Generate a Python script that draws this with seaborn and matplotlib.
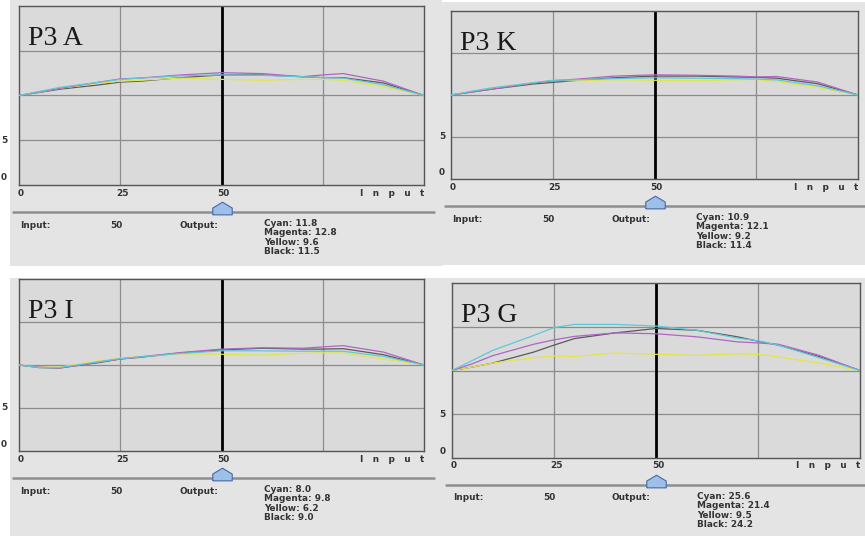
import numpy as np
import pandas as pd
import matplotlib
matplotlib.use('Agg')
import matplotlib.pyplot as plt
import matplotlib.transforms as mtransforms
from matplotlib.path import Path
from matplotlib.patches import Rectangle
import seaborn as sns

W, H = 865, 536

# ---- data ----
inputs = [0, 5, 10, 20, 25, 30, 40, 50, 60, 70, 75, 80, 90, 100]

A_cyan    = [10, 10.45, 10.9, 11.5, 11.8, 11.95, 12.2, 12.3, 12.25, 12.1, 12.0, 11.95, 11.2, 10]
A_magenta = [10, 10.4, 10.8, 11.5, 11.85, 11.95, 12.3, 12.55, 12.45, 12.1, 12.3, 12.45, 11.6, 10]
A_yellow  = [10, 10.4, 10.8, 11.4, 11.6, 11.7, 11.95, 11.8, 11.7, 11.8, 11.8, 11.7, 11.0, 10]
A_black   = [10, 10.35, 10.7, 11.2, 11.5, 11.6, 12.0, 12.3, 12.3, 12.1, 12.0, 12.0, 11.4, 10]

K_cyan    = [10, 10.45, 10.85, 11.45, 11.75, 11.8, 11.95, 12.05, 12.0, 11.95, 11.9, 11.8, 11.1, 10]
K_magenta = [10, 10.35, 10.7, 11.4, 11.7, 11.85, 12.25, 12.4, 12.35, 12.25, 12.15, 12.2, 11.55, 10]
K_yellow  = [10, 10.4, 10.8, 11.45, 11.75, 11.7, 11.8, 11.75, 11.7, 11.8, 11.85, 11.6, 10.9, 10]
K_black   = [10, 10.35, 10.7, 11.3, 11.5, 11.7, 12.05, 12.25, 12.25, 12.15, 12.1, 12.0, 11.35, 10]

I_cyan    = [10, 9.7, 9.7, 10.4, 10.75, 10.95, 11.35, 11.65, 11.65, 11.6, 11.6, 11.6, 11.0, 10]
I_magenta = [10, 9.75, 9.65, 10.35, 10.7, 10.95, 11.45, 11.85, 12.0, 11.95, 12.1, 12.25, 11.5, 10]
I_yellow  = [10, 9.75, 9.75, 10.5, 10.8, 11.0, 11.3, 11.25, 11.15, 11.35, 11.4, 11.4, 10.7, 10]
I_black   = [10, 9.7, 9.65, 10.3, 10.7, 10.9, 11.4, 11.75, 11.95, 11.85, 11.85, 11.9, 11.2, 10]

G_cyan    = [10, 11.15, 12.3, 14.0, 14.9, 15.27, 15.27, 15.08, 14.6, 13.7, 13.4, 12.9, 11.46, 10]
G_magenta = [10, 10.77, 11.7, 13.0, 13.5, 13.9, 14.3, 14.2, 13.85, 13.27, 13.15, 13.0, 11.73, 10]
G_yellow  = [10, 10.4, 10.85, 11.46, 11.65, 11.6, 12.0, 11.85, 11.73, 11.9, 11.85, 11.54, 10.85, 10]
G_black   = [10, 10.4, 10.85, 12.1, 12.9, 13.65, 14.3, 14.8, 14.6, 13.85, 13.35, 12.9, 11.6, 10]

panels = ['P3 A', 'P3 K', 'P3 I', 'P3 G']
inks = ['Black', 'Yellow', 'Magenta', 'Cyan']   # draw order
curves = [
    [A_black, A_yellow, A_magenta, A_cyan],
    [K_black, K_yellow, K_magenta, K_cyan],
    [I_black, I_yellow, I_magenta, I_cyan],
    [G_black, G_yellow, G_magenta, G_cyan],
]
cyan_out = [11.8, 10.9, 8.0, 25.6]
magenta_out = [12.8, 12.1, 9.8, 21.4]
yellow_out = [9.6, 9.2, 6.2, 9.5]
black_out = [11.5, 11.4, 9.0, 24.2]
slider_input = 50
x_ticks = [0, 25, 50]

palette = {'Cyan': '#5ec8d8', 'Magenta': '#b064c4', 'Yellow': '#e4e448', 'Black': '#595959'}

# pixel boxes (x0, y0, x1, y1): panel background, plot area
layout = [
    ((10, 0, 442, 266), (19, 6, 424, 185)),
    ((442, 2, 865, 265), (451, 11, 858, 179)),
    ((10, 278, 442, 536), (19, 279, 424, 451)),
    ((442, 278, 865, 536), (452, 283, 860, 458)),
]

fig = plt.figure(figsize=(W / 100, H / 100), dpi=100)
fig.patch.set_facecolor('white')
ov = fig.add_axes([0, 0, 1, 1], zorder=0)
ov.set_xlim(0, W)
ov.set_ylim(H, 0)
ov.axis('off')

txt = dict(family='DejaVu Sans', fontsize=6.4, color='#333333', fontweight='bold')

# thumb shape for slider knob
knob = Path([(-1, -0.55), (1, -0.55), (1, 0.15), (0, 0.75), (-1, 0.15), (-1, -0.55)])

for i, name in enumerate(panels):
    bg, (x0, y0, x1, y1) = layout[i]
    ov.add_patch(Rectangle((bg[0], bg[1]), bg[2] - bg[0], bg[3] - bg[1],
                           facecolor='#e4e4e4', edgecolor='none'))

    ax = fig.add_axes([x0 / W, 1 - y1 / H, (x1 - x0) / W, (y1 - y0) / H], zorder=1)
    ax.set_facecolor('#dadada')

    df = pd.concat([pd.DataFrame({'input': inputs, 'output': c, 'ink': ink})
                    for ink, c in zip(inks, curves[i])])
    sns.lineplot(data=df, x='input', y='output', hue='ink', hue_order=inks,
                 palette=palette, linewidth=0.9, legend=False, ax=ax, zorder=3)

    ax.set_xlim(0, 100)
    ax.set_ylim(0, 20)
    for gx in [25, 75]:
        ax.axvline(gx, color='#8c8c8c', lw=0.9, zorder=1)
    for gy in [5, 10, 15]:
        ax.axhline(gy, color='#8c8c8c', lw=0.9, zorder=1)
    ax.axvline(slider_input, color='black', lw=2.0, zorder=2)
    ax.set_xticks([])
    ax.set_yticks([])
    ax.set_xlabel('')
    ax.set_ylabel('')
    for s in ax.spines.values():
        s.set_color('#555555')
        s.set_linewidth(1.0)

    # title
    ax.text(9 / (x1 - x0), 1 - 39 / (y1 - y0), name, transform=ax.transAxes,
            family='Liberation Serif', fontsize=20, color='#1a1a1a', va='baseline')

    # x tick labels and axis name under the plot
    bx = mtransforms.blended_transform_factory(ax.transData, ov.transData)
    for t in x_ticks:
        ax.text(t + 0.5, y1 + 8, str(t), transform=bx, ha='center', va='center', **txt)
    ov.text(x1, y1 + 8, 'I   n   p   u   t', ha='right', va='center', **txt)

    # y labels squeezed against the left edge
    by = mtransforms.blended_transform_factory(ov.transData, ax.transData)
    lx = x0 - (18 if x0 < 100 else 6)
    ha = 'left' if x0 < 100 else 'right'
    ax.text(lx, 5, '5', transform=by, ha=ha, va='center', **txt)
    ax.text(lx, 0.8, '0', transform=by, ha=ha, va='center', **txt)

    # slider
    sy = y1 + 26.5
    ov.plot([x0 - 6, x1 + 10], [sy, sy], color='#8e8e8e', lw=1.8, solid_capstyle='round')
    ax.plot([slider_input], [sy - 2.5], transform=bx, marker=knob, ms=14,
            markerfacecolor='#9dbfe9', markeredgecolor='#4569a3', markeredgewidth=0.8,
            clip_on=False, zorder=5)

    # readout
    ov.text(x0 + 1, y1 + 40, 'Input:', va='center', **txt)
    ov.text(x0 + 91, y1 + 40, str(slider_input), va='center', **txt)
    ov.text(x0 + 160, y1 + 40, 'Output:', va='center', **txt)
    rows = [f'Cyan: {cyan_out[i]:.1f}', f'Magenta: {magenta_out[i]:.1f}',
            f'Yellow: {yellow_out[i]:.1f}', f'Black: {black_out[i]:.1f}']
    for r, s in enumerate(rows):
        ov.text(x0 + 245, y1 + 38.5 + 9.3 * r, s, va='center', **txt)

fig.savefig('out.png', dpi=100, facecolor=fig.get_facecolor())
